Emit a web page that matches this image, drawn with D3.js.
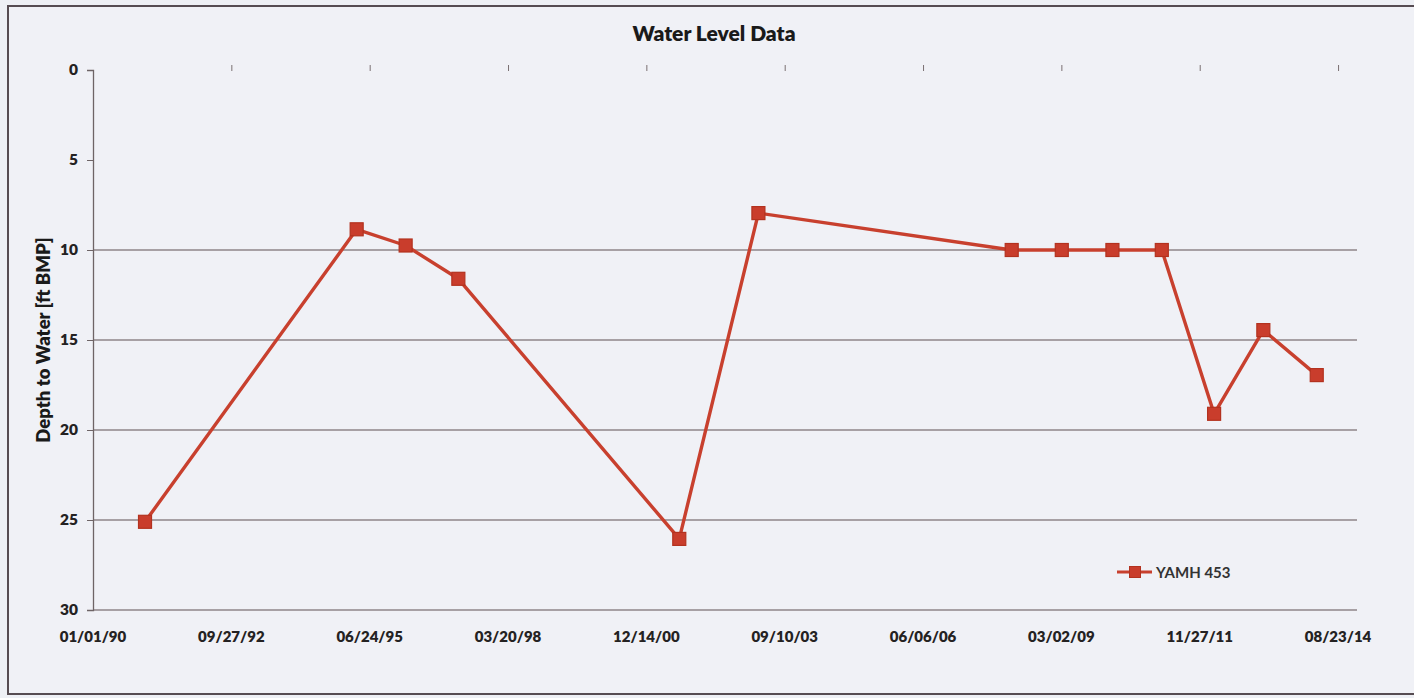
<!DOCTYPE html>
<html>
<head>
<meta charset="utf-8">
<script src="https://cdn.jsdelivr.net/npm/d3@7"></script>
<style>
  html, body { margin: 0; padding: 0; background: #eef0f5; }
  svg { display: block; }
</style>
</head>
<body>
<svg id="chart" width="1414" height="698"></svg>
<script>
// ---- data ----
const dates = ["1991-01-12","1995-03-22","1996-03-10","1997-03-26","2001-08-09","2003-03-04",
               "2008-03-08","2009-03-05","2010-03-06","2011-02-26","2012-03-10","2013-03-01","2014-03-22"];
const depths = [25.1, 8.85, 9.75, 11.6, 26.05, 7.95, 10, 10, 10, 10, 19.1, 14.45, 16.95];
const seriesName = "YAMH 453";
const xTickDays = [0, 1000, 2000, 3000, 4000, 5000, 6000, 7000, 8000, 9000];
const yTicks = [0, 5, 10, 15, 20, 25, 30];
const yGrid = [10, 15, 20, 25, 30];

(function () {
const parse = d3.utcParse("%Y-%m-%d");
const fmt = d3.utcFormat("%m/%d/%y");
const start = parse("1990-01-01");
const end = parse("2015-01-07");
const data = dates.map((d, i) => ({ date: parse(d), v: depths[i] }));
const xTicks = xTickDays.map(n => d3.utcDay.offset(start, n));

const svg = d3.select("#chart");
const pL = 93, pR = 1357, pT = 70, pB = 610;

const x = d3.scaleUtc().domain([start, end]).range([pL, pR]);
const y = d3.scaleLinear().domain([0, 30]).range([pT, pB]);

const font = "Lato, 'Open Sans', sans-serif";
const textCol = "#242222";
const axisCol = "#6e6466";
const gridCol = "#8f8588";

// outer border
svg.append("rect").attr("x", 8).attr("y", 6).attr("width", 1420).attr("height", 688)
  .attr("fill", "#f0f1f6").attr("stroke", "#564c52").attr("stroke-width", 2);

// title
svg.append("text").attr("x", 714).attr("y", 41).attr("text-anchor", "middle")
  .attr("font-family", font).attr("font-weight", 800).attr("font-size", 21)
  .attr("fill", "#1a1a1a").text("Water Level Data");

// gridlines
svg.append("g").selectAll("line").data(yGrid).join("line")
  .attr("x1", pL).attr("x2", pR)
  .attr("y1", d => y(d)).attr("y2", d => y(d))
  .attr("stroke", gridCol).attr("stroke-width", 1.3);

// y axis
const yAxis = svg.append("g").attr("transform", `translate(${pL},0)`)
  .call(d3.axisLeft(y).tickValues(yTicks).tickSize(6).tickPadding(9));
yAxis.select(".domain").attr("stroke", axisCol).attr("stroke-width", 1.3);
yAxis.selectAll(".tick line").attr("stroke", axisCol);
yAxis.selectAll(".tick text").attr("font-family", font).attr("font-weight", 800)
  .attr("font-size", 15.5).attr("fill", textCol);
yAxis.selectAll(".tick").filter(d => d === 0).select("line").remove();

// x axis ticks on top (axis crosses at 0)
const xTop = svg.append("g").attr("transform", `translate(0,${pT + 1})`)
  .call(d3.axisTop(x).tickValues(xTicks).tickSize(6).tickFormat(""));
xTop.select(".domain").remove();
xTop.selectAll(".tick line").attr("stroke", "#7a7072");
xTop.selectAll(".tick").filter((d, i) => i === 0).remove();

// x tick labels at bottom
svg.append("g").selectAll("text").data(xTicks).join("text")
  .attr("x", d => x(d)).attr("y", 642).attr("text-anchor", "middle")
  .attr("font-family", font).attr("font-weight", 800).attr("font-size", 15)
  .attr("fill", textCol).text(d => fmt(d));

// y label
svg.append("text")
  .attr("transform", `translate(50,${(pT + pB) / 2}) rotate(-90)`)
  .attr("text-anchor", "middle")
  .attr("font-family", font).attr("font-weight", 800).attr("font-size", 18.5)
  .attr("fill", "#1a1a1a").text("Depth to Water [ft BMP]");

// series
const lineCol = "#c8402e";
const line = d3.line().x(d => x(d.date)).y(d => y(d.v));
svg.append("path").datum(data).attr("d", line)
  .attr("fill", "none").attr("stroke", lineCol).attr("stroke-width", 3.4)
  .attr("stroke-linejoin", "round");

const ms = 13;
svg.append("g").selectAll("rect").data(data).join("rect")
  .attr("x", d => x(d.date) - ms / 2).attr("y", d => y(d.v) - ms / 2)
  .attr("width", ms).attr("height", ms)
  .attr("fill", "#c93d2c").attr("stroke", "#b3321f").attr("stroke-width", 1.2);

// legend
const lg = svg.append("g").attr("transform", "translate(1117,572)");
lg.append("line").attr("x1", 0).attr("x2", 35).attr("y1", 0).attr("y2", 0)
  .attr("stroke", lineCol).attr("stroke-width", 3);
lg.append("rect").attr("x", 18 - 5.5).attr("y", -5.5).attr("width", 11).attr("height", 11)
  .attr("fill", "#c93d2c").attr("stroke", "#b3321f").attr("stroke-width", 1);
lg.append("text").attr("x", 39).attr("y", 5.5).attr("font-family", font).attr("font-weight", 700)
  .attr("font-size", 15).attr("fill", "#333").text(seriesName);
})();
</script>
</body>
</html>
